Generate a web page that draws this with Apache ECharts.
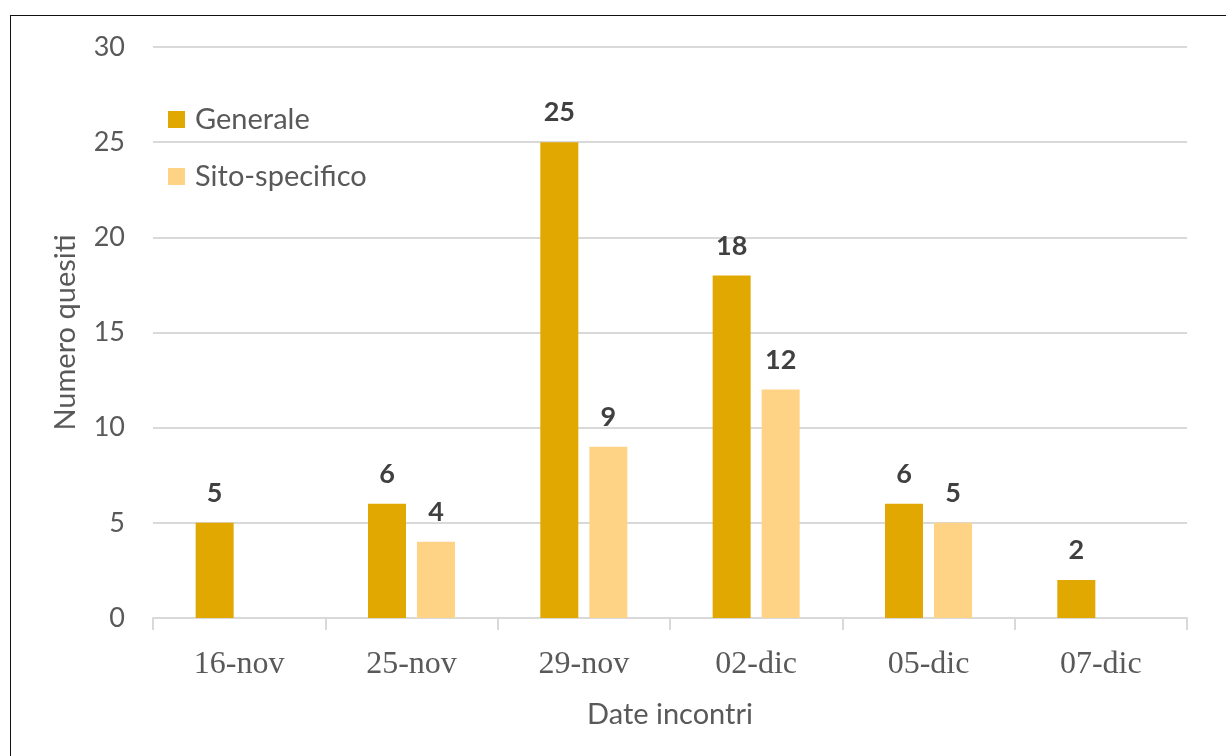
<!DOCTYPE html>
<html>
<head>
<meta charset="utf-8">
<script src="https://cdn.jsdelivr.net/npm/echarts@6/dist/echarts.min.js"></script>
<style>
  html, body { margin: 0; padding: 0; background: #fff; overflow: hidden; }
  #chart { width: 1226px; height: 756px; }
  #frame { position: absolute; left: 10px; top: 15px; width: 1400px; height: 900px;
           border-left: 1px solid #111; border-top: 1px solid #111; pointer-events: none; }
</style>
</head>
<body>
<div id="chart"></div>
<div id="frame"></div>
<script>
// Meeting dates and number of questions received
const categories = ['16-nov', '25-nov', '29-nov', '02-dic', '05-dic', '07-dic'];
const generale = [5, 6, 25, 18, 6, 2];
const sitoSpecifico = [null, 4, 9, 12, 5, null];
const seriesNames = ['Generale', 'Sito-specifico'];
const yAxisTitle = 'Numero quesiti';
const xAxisTitle = 'Date incontri';

const sans = 'Lato, "Open Sans", sans-serif';
const serif = '"Liberation Serif", "DejaVu Serif", serif';

const chart = echarts.init(document.getElementById('chart'), null, { renderer: 'canvas' });

const labelStyle = {
  show: true,
  position: 'top',
  distance: 16,
  color: '#404040',
  fontFamily: sans,
  fontWeight: 'bold',
  fontSize: 27
};

chart.setOption({
  animation: false,
  backgroundColor: '#fff',
  grid: { left: 153, right: 39, top: 47, bottom: 138, containLabel: false },
  legend: {
    orient: 'vertical',
    left: 168,
    top: 105,
    padding: 0,
    itemWidth: 17,
    itemHeight: 17,
    itemGap: 28,
    icon: 'rect',
    textStyle: { fontFamily: sans, fontSize: 29, color: '#595959', padding: [0, 0, 0, 5] },
    data: seriesNames
  },
  xAxis: {
    type: 'category',
    data: categories,
    name: xAxisTitle,
    nameLocation: 'middle',
    nameGap: 82,
    nameTextStyle: { fontFamily: sans, fontSize: 29, color: '#595959' },
    axisLine: { show: true, lineStyle: { color: '#d9d9d9', width: 2 } },
    axisTick: { show: true, length: 12, lineStyle: { color: '#d9d9d9', width: 2 } },
    axisLabel: { fontFamily: serif, fontSize: 32, color: '#595959', margin: 31 }
  },
  yAxis: {
    type: 'value',
    min: 0,
    max: 30,
    interval: 5,
    name: yAxisTitle,
    nameLocation: 'middle',
    nameGap: 73,
    nameTextStyle: { fontFamily: sans, fontSize: 29, color: '#595959' },
    axisLine: { show: false },
    axisTick: { show: false },
    axisLabel: { fontFamily: sans, fontSize: 27, color: '#595959', margin: 28 },
    splitLine: { lineStyle: { color: '#d9d9d9', width: 2 } }
  },
  series: [
    {
      name: seriesNames[0],
      type: 'bar',
      data: generale,
      barWidth: 38,
      barGap: '29%',
      itemStyle: { color: '#e0a800' },
      label: labelStyle
    },
    {
      name: seriesNames[1],
      type: 'bar',
      data: sitoSpecifico,
      barWidth: 38,
      itemStyle: { color: '#ffd386' },
      label: labelStyle
    }
  ]
});
</script>
</body>
</html>
